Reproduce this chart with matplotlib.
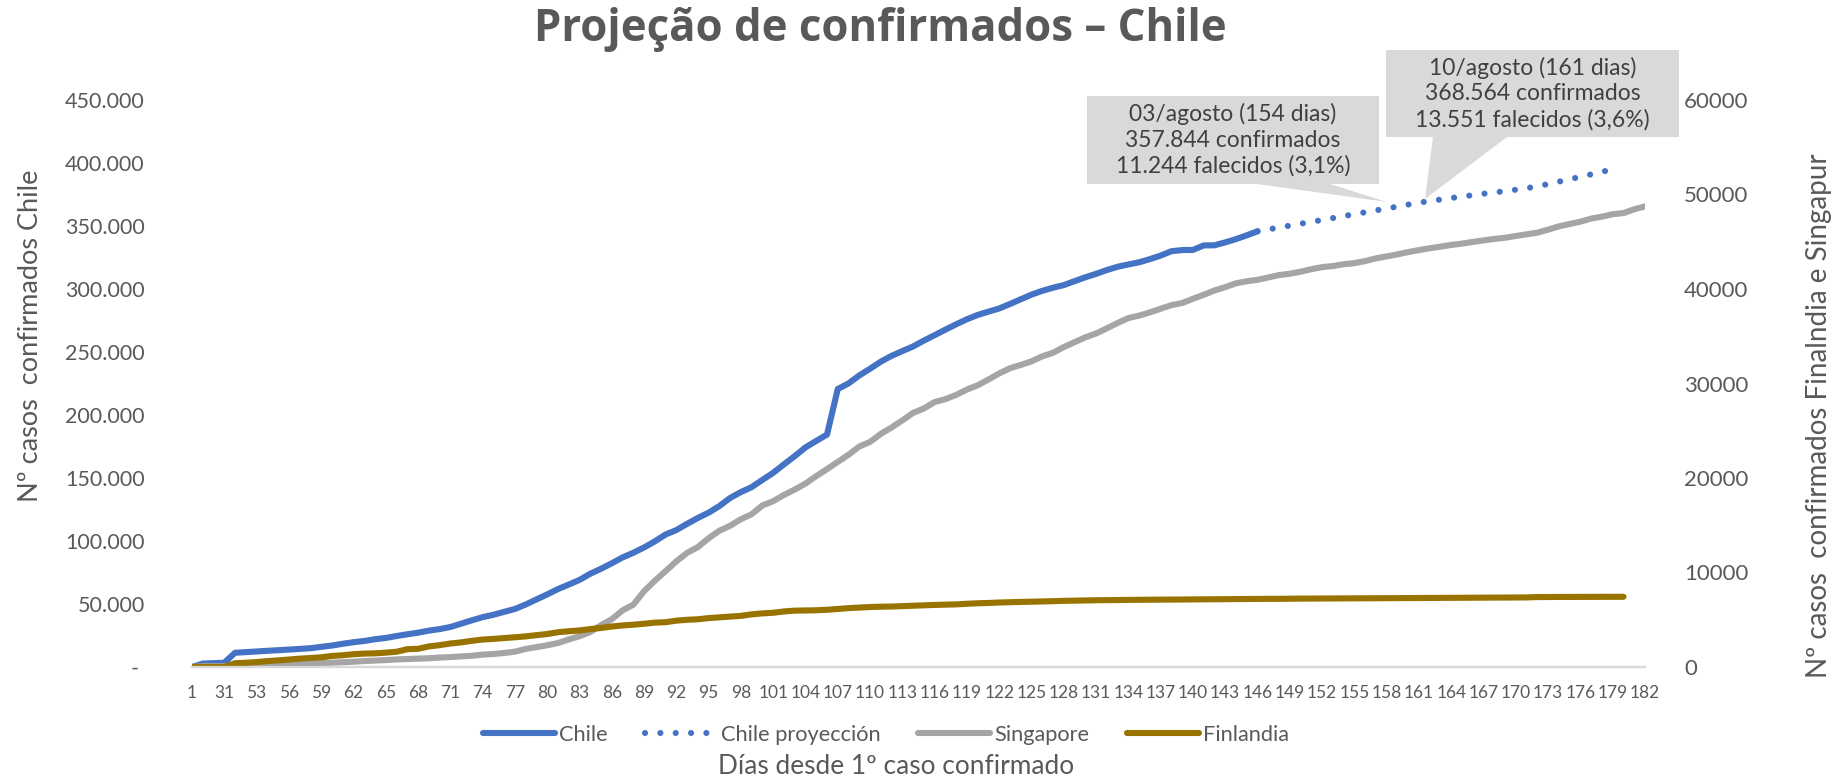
import matplotlib
matplotlib.use("Agg")
import matplotlib.pyplot as plt
import numpy as np
from matplotlib import font_manager
from matplotlib.lines import Line2D
from matplotlib.patches import Polygon

# categorias del eje x (dias desde el 1er caso)
dias = [1, 29, 30, 31, 51, 52] + list(range(53, 183))

# Chile confirmados (dia 1 ... dia 146)
chile = [
    1, 2738, 3031, 3404, 11296, 11812,
    12306, 12858, 13331, 13813, 14365, 14885, 16023, 17008, 18435, 19663,
    20643, 22016, 23048, 24581, 25972, 27219, 28866, 30063, 31721, 34381,
    37040, 39542, 41428, 43781, 46059, 49579, 53617, 57581, 61857, 65393,
    69102, 73997, 77961, 82289, 86943, 90638, 94858, 99688, 105159, 108686,
    113628, 118292, 122499, 127745, 134150, 138846, 142759, 148496, 154092, 160846,
    167355, 174293, 179436, 184449, 220628, 225103, 231393, 236748, 242355, 246963,
    250767, 254416, 259064, 263360, 267766, 271982, 275999, 279393, 282043, 284541,
    288089, 291847, 295532, 298557, 301019, 303083, 306216, 309274, 312029, 315041,
    317657, 319493, 321205, 323698, 326539, 330000, 330900, 331000, 334600, 334700,
    337000, 339600, 342600, 345790,
]

# Chile proyeccion (dia 146 ... dia 179)
chile_proy = [
    345790, 347300, 348800, 350300, 351800, 353300, 354800, 356300, 357844, 359400,
    360900, 362400, 363900, 365400, 367000, 368564, 369800, 371000, 372200, 373400,
    374500, 375600, 376600, 377700, 378800, 380000, 381500, 383300, 385200, 387100,
    389000, 391000, 393000, 395000,
]

# Singapur (dia 1 ... dia 182)
singapur = [
    1, 85, 86, 89, 200, 212,
    226, 243, 266, 313, 345, 385, 432, 455, 509, 558,
    631, 683, 732, 802, 844, 879, 926, 1000, 1049, 1114,
    1189, 1309, 1375, 1481, 1623, 1910, 2108, 2299, 2532, 2918,
    3252, 3699, 4427, 5050, 5992, 6588, 8014, 9125, 10141, 11178,
    12075, 12693, 13624, 14423, 14951, 15641, 16169, 17101, 17548, 18205,
    18778, 19410, 20198, 20939, 21707, 22460, 23336, 23822, 24671, 25346,
    26098, 26891, 27356, 28038, 28343, 28794, 29364, 29812, 30426, 31068,
    31616, 31960, 32343, 32876, 33249, 33860, 34366, 34884, 35292, 35836,
    36405, 36922, 37183, 37527, 37910, 38296, 38514, 38965, 39387, 39850,
    40197, 40604, 40818, 40969, 41216, 41473, 41615, 41833, 42095, 42313,
    42432, 42623, 42736, 42955, 43246, 43459, 43661, 43907, 44122, 44310,
    44479, 44664, 44800, 44983, 45140, 45298, 45423, 45613, 45783, 45961,
    46283, 46630, 46878, 47126, 47453, 47655, 47912, 48035, 48434, 48744,
]

# Finlandia (dia 1 ... dia 180)
finlandia = [
    1, 2, 2, 3, 400, 450,
    521, 626, 700, 792, 880, 958, 1025, 1167, 1240, 1352,
    1418, 1446, 1518, 1615, 1882, 1927, 2176, 2308, 2487, 2605,
    2769, 2905, 2974, 3064, 3161, 3237, 3369, 3489, 3681, 3783,
    3868, 4014, 4129, 4284, 4395, 4475, 4576, 4695, 4740, 4906,
    4995, 5051, 5176, 5254, 5327, 5412, 5573, 5673, 5738, 5880,
    5962, 5984, 6003, 6054, 6145, 6228, 6286, 6347, 6380, 6399,
    6443, 6493, 6537, 6568, 6599, 6628, 6692, 6743, 6776, 6826,
    6859, 6885, 6911, 6941, 6964, 7001, 7025, 7040, 7064, 7073,
    7087, 7104, 7112, 7117, 7119, 7130, 7143, 7153, 7167, 7172,
    7191, 7191, 7199, 7209, 7214, 7214, 7229, 7237, 7241, 7247,
    7257, 7262, 7265, 7273, 7279, 7286, 7293, 7295, 7301, 7307,
    7310, 7318, 7320, 7327, 7335, 7340, 7348, 7355, 7362, 7400,
    7410, 7413, 7418, 7420, 7423, 7425, 7427, 7430,
]

callouts = [
    "03/agosto (154 dias)\n357.844 confirmados\n11.244 falecidos (3,1%)",
    "10/agosto (161 dias)\n368.564 confirmados\n13.551 falecidos (3,6%)",
]

BLUE = "#4472C4"
GREY = "#A5A5A5"
GOLD = "#997300"
TXT = "#595959"

names = {f.name for f in font_manager.fontManager.ttflist}
BASE = "Lato" if "Lato" in names else "DejaVu Sans"
TITLE_FONT = "Open Sans" if "Open Sans" in names else "DejaVu Sans"
plt.rcParams["font.family"] = [BASE, "DejaVu Sans"]

W, H = 1837, 778
fig = plt.figure(figsize=(W / 100, H / 100), dpi=100)
ax = fig.add_axes([192 / W, 1 - 667 / H, (1645 - 192) / W, (667 - 100) / H])
ax2 = ax.twinx()

x_chile = np.arange(len(chile))
x_proy = np.arange(len(chile) - 1, len(chile) - 1 + len(chile_proy))
lw = 4.4
ax.plot(x_chile, chile, color=BLUE, lw=lw, solid_capstyle="round", solid_joinstyle="round")
ax.plot(x_proy, chile_proy, color=BLUE, lw=lw, linestyle=(0, (0.01, 2.5)),
        dash_capstyle="round")
ax2.plot(np.arange(len(singapur)), singapur, color=GREY, lw=lw,
         solid_capstyle="round", solid_joinstyle="round")
ax2.plot(np.arange(len(finlandia)), finlandia, color=GOLD, lw=lw,
         solid_capstyle="round", solid_joinstyle="round")

ax.set_xlim(0, len(dias) - 1)
ax.set_ylim(0, 450000)
ax2.set_ylim(0, 60000)

ax.set_xticks(np.arange(0, len(dias), 3))
ax.set_xticklabels([str(dias[i]) for i in range(0, len(dias), 3)],
                   fontsize=12.5, color=TXT)
ytk = np.arange(0, 450001, 50000)
ax.set_yticks(ytk)
ax.set_yticklabels(["- "] + [f"{v:,}".replace(",", ".") for v in ytk[1:]],
                   fontsize=15.5, color=TXT)
ax2.set_yticks(np.arange(0, 60001, 10000))
ax2.set_yticklabels([str(v) for v in range(0, 60001, 10000)], fontsize=16, color=TXT)

ax.tick_params(axis="x", length=0, pad=13)
ax.tick_params(axis="y", length=0, pad=34)
ax2.tick_params(axis="y", length=0, pad=28)
for a in (ax, ax2):
    for s in ("top", "left", "right"):
        a.spines[s].set_visible(False)
    a.spines["bottom"].set_color("#D9D9D9")
    a.spines["bottom"].set_linewidth(1.6)

# titulos
fig.text(880 / W, 1 - 30 / H, "Projeção de confirmados – Chile", ha="center", va="center",
         fontsize=31.5, fontweight="bold", family=TITLE_FONT, color=TXT)
fig.text(31 / W, 1 - 336 / H, "Nº casos  confirmados Chile", rotation=90,
         ha="center", va="center", fontsize=19.5, color=TXT)
fig.text(1819 / W, 1 - 416 / H, "Nº casos  confirmados Finalndia e Singapur", rotation=90,
         ha="center", va="center", fontsize=20, color=TXT)
fig.text(896 / W, 1 - 767 / H, "Días desde 1º caso confirmado", ha="center", va="center",
         fontsize=18.9, color=TXT)

# leyenda
handles = [
    Line2D([], [], color=BLUE, lw=lw, solid_capstyle="round"),
    Line2D([], [], color=BLUE, lw=lw, linestyle=(0, (0.01, 2.5)), dash_capstyle="round"),
    Line2D([], [], color=GREY, lw=lw, solid_capstyle="round"),
    Line2D([], [], color=GOLD, lw=lw, solid_capstyle="round"),
]
leg = fig.legend(handles, ["Chile", "Chile proyección", "Singapore", "Finlandia"],
                 loc="center", bbox_to_anchor=(886 / W, 1 - 735 / H), ncol=4,
                 frameon=False, fontsize=15.7, handlelength=3.3, handletextpad=0.2,
                 columnspacing=1.7)
for t in leg.get_texts():
    t.set_color(TXT)


# cajas de anotacion (coordenadas en pixeles de la figura)
def callout(x0, x1, y0, y1, b0, b1, tip, text):
    pts = [(x0, y0), (x1, y0), (x1, y1), (b1, y1), tip, (b0, y1), (x0, y1)]
    pts = [(px / W, 1 - py / H) for px, py in pts]
    fig.patches.append(Polygon(pts, closed=True, transform=fig.transFigure,
                               facecolor="#D9D9D9", edgecolor="none", zorder=5))
    fig.text((x0 + x1) / 2 / W, 1 - (y0 + y1) / 2 / H, text, ha="center", va="center",
             fontsize=16.5, color="#404040", linespacing=1.27, zorder=6)


callout(1087, 1379, 96, 184, 1257, 1330, (1387, 202), callouts[0])
callout(1386, 1679, 50, 137, 1433, 1507, (1425, 199), callouts[1])

fig.savefig("out.png", dpi=100)
